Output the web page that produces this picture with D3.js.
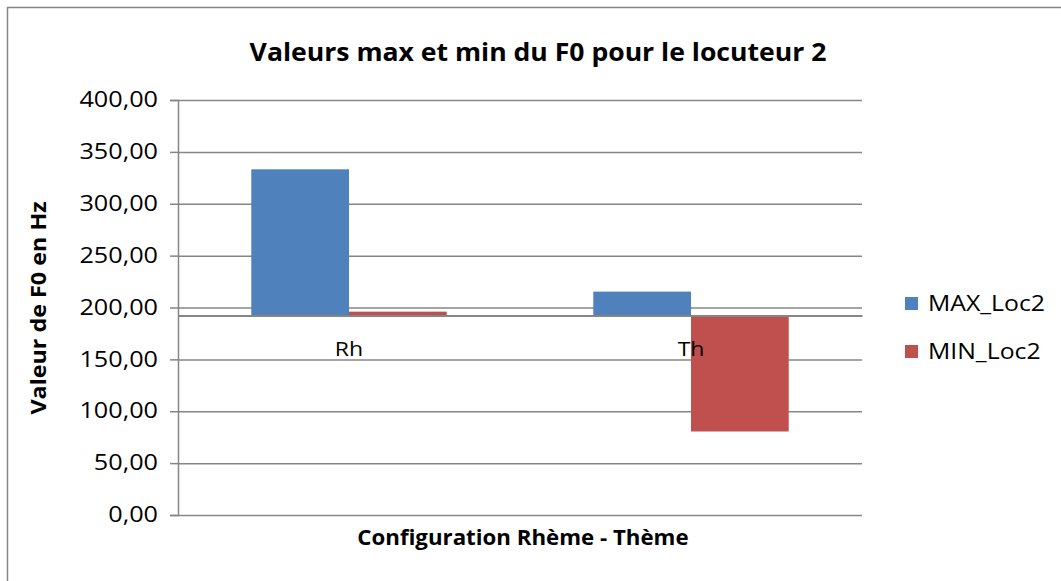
<!DOCTYPE html>
<html>
<head>
<meta charset="utf-8">
<script src="https://cdn.jsdelivr.net/npm/d3@7"></script>
<style>
    body { margin: 0; background: #fff; }
    text { font-family: "Open Sans", Lato, sans-serif; fill: #000; }
</style>
</head>
<body>
<script>
// Data
var categories = ["Rh", "Th"];
var seriesNames = ["MAX_Loc2", "MIN_Loc2"];
var maxLoc2 = [333.2, 215.3];
var minLoc2 = [196.0, 80.5];
var yTicks = [0, 50, 100, 150, 200, 250, 300, 350, 400];
var axisCross = 192.3;   // value where the category axis crosses
var colors = ["#4F81BD", "#C0504D"];

var W = 1061, H = 581;
var margin = {top: 100, right: 199, bottom: 66, left: 178},
    width = W - margin.left - margin.right,
    height = H - margin.top - margin.bottom;

// the reference font runs wider than Open Sans: stretch each text a bit
var STRETCH = 1.1;
function widen(sel, k) {
    sel.each(function() {
        var len = this.getComputedTextLength();
        d3.select(this)
            .attr("textLength", len * (k || STRETCH))
            .attr("lengthAdjust", "spacingAndGlyphs");
    });
}

var root = d3.select("body").append("svg")
    .attr("width", W)
    .attr("height", H);

// outer chart border
root.append("rect")
    .attr("x", 7.5).attr("y", 7.5)
    .attr("width", W + 10).attr("height", H + 10)
    .attr("fill", "#fff")
    .attr("stroke", "#868686")
    .attr("stroke-width", 1.5);

var svg = root.append("g")
    .attr("transform", "translate(" + margin.left + "," + margin.top + ")");

var xScale = d3.scaleBand().domain(categories).range([0, width]);
var xInner = d3.scaleBand().domain(seriesNames)
    .range([0, xScale.bandwidth()])
    .paddingInner(0).paddingOuter(0.75);
var yScale = d3.scaleLinear().domain([0, 400]).range([height, 0]);

// gridlines
svg.append("g")
    .attr("class", "grid")
    .call(d3.axisLeft(yScale).tickValues(yTicks).tickSize(-width)
        .tickFormat(""))
    .call(function(g) {
        g.select(".domain").remove();
        g.selectAll("line").attr("stroke", "#868686")
            .attr("stroke-width", 1.5);
    });

// bars, drawn from the crossing value
var rows = [];
categories.forEach(function(c, i) {
    rows.push({cat: c, s: seriesNames[0], v: maxLoc2[i], col: colors[0]});
    rows.push({cat: c, s: seriesNames[1], v: minLoc2[i], col: colors[1]});
});

svg.selectAll("rect.bar")
    .data(rows)
    .enter()
    .append("rect")
    .attr("class", "bar")
    .attr("x", function(d) { return xScale(d.cat) + xInner(d.s); })
    .attr("width", xInner.bandwidth())
    .attr("y", function(d) { return yScale(Math.max(d.v, axisCross)); })
    .attr("height", function(d) {
        return Math.abs(yScale(d.v) - yScale(axisCross));
    })
    .attr("fill", function(d) { return d.col; });

// y axis
svg.append("g")
    .attr("class", "y axis")
    .call(d3.axisLeft(yScale).tickValues(yTicks).tickSize(8).tickPadding(12)
        .tickFormat(function(d) { return d3.format(".2f")(d).replace(".", ","); }))
    .call(function(g) {
        g.select(".domain").attr("stroke", "#868686").attr("stroke-width", 1.5);
        g.selectAll("line").attr("stroke", "#868686").attr("stroke-width", 1.5);
        g.selectAll("text").attr("font-size", "21px")
            .style("font-family", "'Open Sans', Lato, sans-serif")
            .call(widen, 1.2);
    });

// category axis at the crossing value
svg.append("g")
    .attr("class", "x axis")
    .attr("transform", "translate(0," + yScale(axisCross) + ")")
    .call(d3.axisBottom(xScale).tickSize(0).tickPadding(26))
    .call(function(g) {
        g.select(".domain").attr("stroke", "#868686").attr("stroke-width", 2);
        g.selectAll("text").attr("font-size", "20px")
            .style("font-family", "'Open Sans', Lato, sans-serif")
            .call(widen, 1.15);
    });

// title
root.append("text")
    .attr("x", 538).attr("y", 61)
    .attr("text-anchor", "middle")
    .attr("font-size", "25px")
    .attr("font-weight", "bold")
    .text("Valeurs max et min du F0 pour le locuteur 2")
    .call(widen, 1.063);

// axis titles
root.append("text")
    .attr("transform", "translate(46,308) rotate(-90)")
    .attr("text-anchor", "middle")
    .attr("font-size", "21px")
    .attr("font-weight", "bold")
    .text("Valeur de F0 en Hz")
    .call(widen, 1.11);

root.append("text")
    .attr("x", 523).attr("y", 545)
    .attr("text-anchor", "middle")
    .attr("font-size", "21px")
    .attr("font-weight", "bold")
    .text("Configuration Rhème - Thème")
    .call(widen, 1.06);

// legend
var legend = root.append("g")
    .attr("transform", "translate(905,297)");
var item = legend.selectAll("g")
    .data(seriesNames)
    .enter()
    .append("g")
    .attr("transform", function(d, i) { return "translate(0," + i * 48 + ")"; });
item.append("rect")
    .attr("width", 13).attr("height", 13)
    .attr("fill", function(d, i) { return colors[i]; });
item.append("text")
    .attr("x", 23).attr("y", 7)
    .attr("dy", "0.35em")
    .attr("font-size", "21px")
    .text(function(d) { return d; })
    .call(widen, 1.18);
</script>
</body>
</html>
